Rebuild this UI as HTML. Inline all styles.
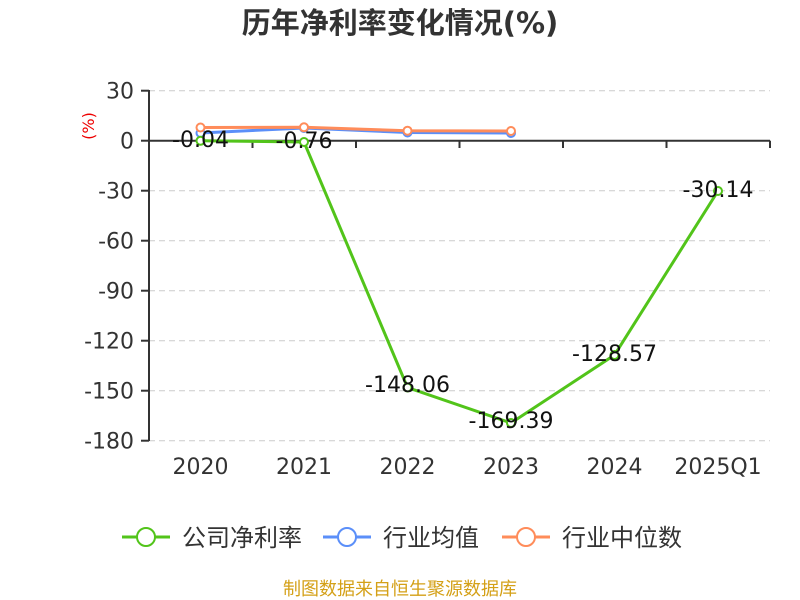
<!DOCTYPE html>
<html><head><meta charset="utf-8"><style>
body{margin:0;background:#fff;}
svg{display:block;font-family:"DejaVu Sans","Noto Sans CJK SC",sans-serif;}
</style></head><body>
<svg width="800" height="600" viewBox="0 0 800 600">
<text x="400" y="33" text-anchor="middle" font-size="29" font-weight="bold" fill="#333">历年净利率变化情况(%)</text>
<g stroke="#ccc" stroke-dasharray="6,4" stroke-width="1">
<line x1="149" y1="90.7" x2="770" y2="90.7"/>
<line x1="149" y1="190.7" x2="770" y2="190.7"/>
<line x1="149" y1="240.7" x2="770" y2="240.7"/>
<line x1="149" y1="290.7" x2="770" y2="290.7"/>
<line x1="149" y1="340.7" x2="770" y2="340.7"/>
<line x1="149" y1="390.7" x2="770" y2="390.7"/>
<line x1="149" y1="440.7" x2="770" y2="440.7"/>
</g>
<g stroke="#333" stroke-width="2">
<line x1="149" y1="90" x2="149" y2="441"/>
<line x1="149" y1="140.7" x2="770" y2="140.7"/>
<line x1="141" y1="90.7" x2="149" y2="90.7"/><line x1="141" y1="140.7" x2="149" y2="140.7"/>
<line x1="141" y1="190.7" x2="149" y2="190.7"/><line x1="141" y1="240.7" x2="149" y2="240.7"/>
<line x1="141" y1="290.7" x2="149" y2="290.7"/><line x1="141" y1="340.7" x2="149" y2="340.7"/>
<line x1="141" y1="390.7" x2="149" y2="390.7"/><line x1="141" y1="440.7" x2="149" y2="440.7"/>
<line x1="252.5" y1="140.7" x2="252.5" y2="148"/><line x1="356" y1="140.7" x2="356" y2="148"/>
<line x1="459.5" y1="140.7" x2="459.5" y2="148"/><line x1="563" y1="140.7" x2="563" y2="148"/>
<line x1="666.5" y1="140.7" x2="666.5" y2="148"/><line x1="770" y1="140.7" x2="770" y2="148"/>
</g>
<g font-size="22" fill="#333" text-anchor="end">
<text x="134" y="98.5">30</text><text x="134" y="148.5">0</text><text x="134" y="198.5">-30</text>
<text x="134" y="248.5">-60</text><text x="134" y="298.5">-90</text><text x="134" y="348.5">-120</text>
<text x="134" y="398.5">-150</text><text x="134" y="448.5">-180</text>
</g>
<text transform="translate(94,126) rotate(-90)" text-anchor="middle" font-size="16" fill="#e00">(%)</text>
<g font-size="22" fill="#333" text-anchor="middle">
<text x="200.5" y="474">2020</text><text x="304" y="474">2021</text><text x="407.5" y="474">2022</text>
<text x="511" y="474">2023</text><text x="614.5" y="474">2024</text><text x="718" y="474">2025Q1</text>
</g>
<polyline fill="none" stroke="#5b8ff9" stroke-width="3" points="200.5,133 304,128 407.5,132.5 511,133"/>
<polyline fill="none" stroke="#ff8c5a" stroke-width="3" points="200.5,127.5 304,127.3 407.5,130.7 511,131"/>
<g fill="#fff" stroke="#5b8ff9" stroke-width="2">
<circle cx="200.5" cy="133" r="4"/><circle cx="304" cy="128" r="4"/><circle cx="407.5" cy="132.5" r="4"/><circle cx="511" cy="133" r="4"/></g>
<g fill="#fff" stroke="#ff8c5a" stroke-width="2">
<circle cx="200.5" cy="127.5" r="4"/><circle cx="304" cy="127.3" r="4"/><circle cx="407.5" cy="130.7" r="4"/><circle cx="511" cy="131" r="4"/></g>
<polyline fill="none" stroke="#52c41a" stroke-width="3" points="200.5,140.8 304,142 407.5,387.5 511,423 614.5,355 718,191"/>
<g fill="#fff" stroke="#52c41a" stroke-width="2">
<circle cx="200.5" cy="140.8" r="4"/><circle cx="304" cy="142" r="4"/><circle cx="407.5" cy="387.5" r="4"/>
<circle cx="511" cy="423" r="4"/><circle cx="614.5" cy="355" r="4"/><circle cx="718" cy="191" r="4"/></g>
<g font-size="22" fill="#111" text-anchor="middle">
<text x="200.5" y="147">-0.04</text><text x="304" y="148">-0.76</text><text x="407.5" y="392">-148.06</text>
<text x="511" y="428">-169.39</text><text x="614.5" y="361">-128.57</text><text x="718" y="197">-30.14</text>
</g>
<g font-size="24" fill="#333">
<line x1="122" y1="537" x2="170" y2="537" stroke="#52c41a" stroke-width="3"/>
<circle cx="146" cy="537" r="9" fill="#fff" stroke="#52c41a" stroke-width="2"/>
<text x="182" y="546">公司净利率</text>
<line x1="323" y1="537" x2="371" y2="537" stroke="#5b8ff9" stroke-width="3"/>
<circle cx="347" cy="537" r="9" fill="#fff" stroke="#5b8ff9" stroke-width="2"/>
<text x="383" y="546">行业均值</text>
<line x1="502" y1="537" x2="550" y2="537" stroke="#ff8c5a" stroke-width="3"/>
<circle cx="526" cy="537" r="9" fill="#fff" stroke="#ff8c5a" stroke-width="2"/>
<text x="562" y="546">行业中位数</text>
</g>
<text x="400" y="595" text-anchor="middle" font-size="18" fill="#d4a017">制图数据来自恒生聚源数据库</text>
</svg>
</body></html>
